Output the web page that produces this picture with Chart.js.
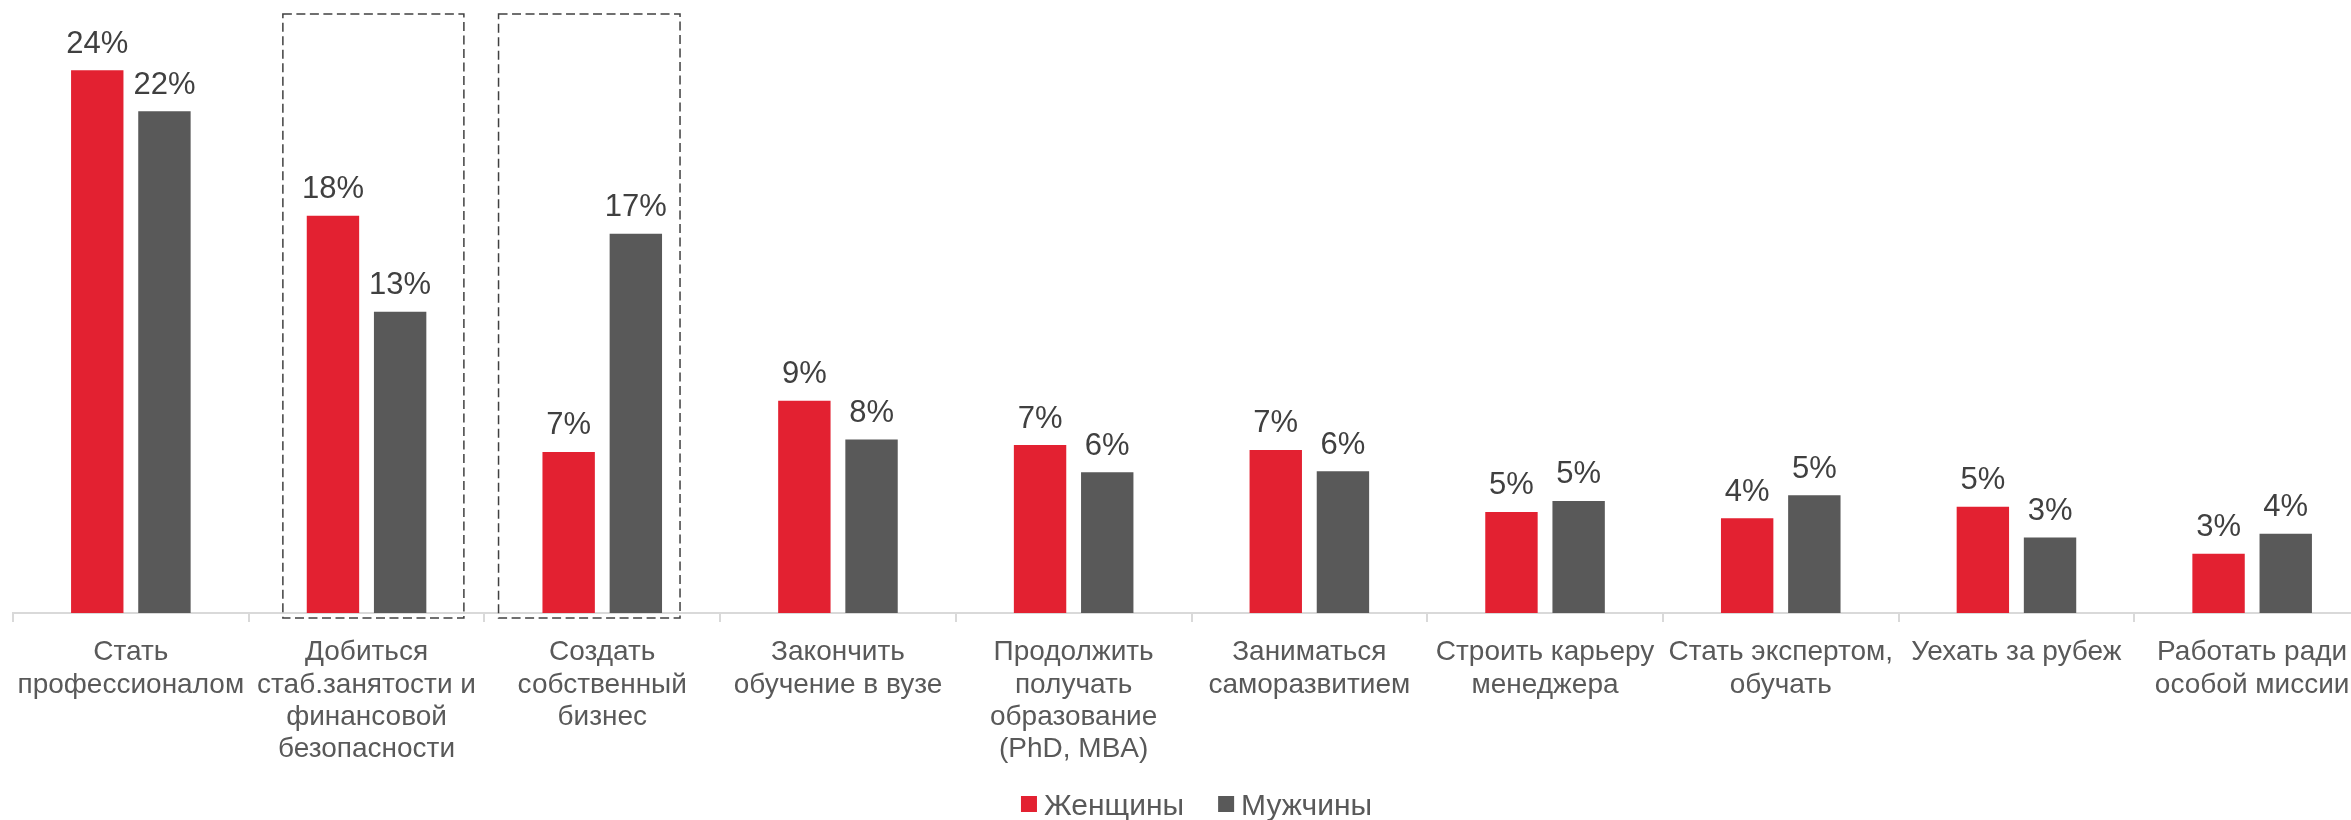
<!DOCTYPE html>
<html><head><meta charset="utf-8">
<script src="https://cdn.jsdelivr.net/npm/chart.js@4"></script>
<style>
html,body{margin:0;padding:0;background:#fff;overflow:hidden;width:2351px;height:820px}
#wrap{position:relative;width:2370px;height:820px}
</style></head><body>
<div id="wrap"><canvas id="c"></canvas></div>
<script>
const categories = [
  ["Стать", "профессионалом"],
  ["Добиться", "стаб.занятости и", "финансовой", "безопасности"],
  ["Создать", "собственный", "бизнес"],
  ["Закончить", "обучение в вузе"],
  ["Продолжить", "получать", "образование", "(PhD, MBA)"],
  ["Заниматься", "саморазвитием"],
  ["Строить карьеру", "менеджера"],
  ["Стать экспертом,", "обучать"],
  ["Уехать за рубеж"],
  ["Работать ради", "особой миссии"]
];
const seriesNames = ["Женщины", "Мужчины"];
const women = [24.16, 17.69, 7.17, 9.45, 7.48, 7.26, 4.5, 4.22, 4.73, 2.64];
const men   = [22.34, 13.41, 16.88, 7.73, 6.27, 6.31, 4.99, 5.24, 3.36, 3.53];
const highlighted = [1, 2];          // categories framed with dashed boxes
const boxSpan = [[-0.355, 0.413], [-0.44, 0.33]]; // box extent in category widths

const FONT = '"Liberation Sans", Arial, sans-serif';
const RED = '#E32131', GRAY = '#595959';

const valueLabels = {
  id: 'valueLabels',
  afterDatasetsDraw(chart) {
    const ctx = chart.ctx;
    ctx.save();
    ctx.font = '31px ' + FONT;
    ctx.fillStyle = '#404040';
    ctx.textAlign = 'center';
    ctx.textBaseline = 'alphabetic';
    chart.data.datasets.forEach((ds, di) => {
      chart.getDatasetMeta(di).data.forEach((bar, i) => {
        ctx.fillText(Math.round(ds.data[i]) + '%', bar.x, bar.y - 17.5);
      });
    });
    ctx.restore();
  }
};

const dashedBoxes = {
  id: 'dashedBoxes',
  afterDraw(chart) {
    const ctx = chart.ctx, xs = chart.scales.x, ys = chart.scales.y;
    const cw = (chart.chartArea.right - chart.chartArea.left) / categories.length;
    ctx.save();
    ctx.strokeStyle = '#404040';
    ctx.lineWidth = 1.5;
    ctx.setLineDash([9, 4.5]);
    highlighted.forEach((ci, k) => {
      const c = xs.getPixelForValue(ci);
      const x0 = c + boxSpan[k][0] * cw, x1 = c + boxSpan[k][1] * cw;
      const y0 = chart.chartArea.top + 7.5, y1 = ys.getPixelForValue(0) + 5;
      ctx.strokeRect(x0, y0, x1 - x0, y1 - y0);
    });
    ctx.restore();
  }
};

const customLegend = {
  id: 'customLegend',
  afterDraw(chart) {
    const ctx = chart.ctx;
    ctx.save();
    ctx.font = '30px ' + FONT;
    const box = 16, gapT = 7, gapI = 34;
    const widths = chart.data.datasets.map(d => ctx.measureText(d.label).width);
    const total = widths.reduce((a, w) => a + box + gapT + w, 0) + gapI * (widths.length - 1);
    let x = (chart.chartArea.left + chart.chartArea.right) / 2 + 5 - total / 2;
    const yc = 804;
    chart.data.datasets.forEach((d, i) => {
      ctx.fillStyle = d.backgroundColor;
      ctx.fillRect(x, yc - box / 2, box, box);
      x += box + gapT;
      ctx.fillStyle = '#595959';
      ctx.textBaseline = 'alphabetic';
      ctx.fillText(d.label, x, yc + 11);
      x += widths[i] + gapI;
    });
    ctx.restore();
  }
};

new Chart(document.getElementById('c'), {
  type: 'bar',
  data: {
    labels: categories,
    datasets: [
      { label: seriesNames[0], data: women, backgroundColor: RED },
      { label: seriesNames[1], data: men, backgroundColor: GRAY }
    ]
  },
  options: {
    responsive: true,
    maintainAspectRatio: false,
    animation: false,
    devicePixelRatio: 1,
    datasets: { bar: { categoryPercentage: 0.57, barPercentage: 0.78 } },
    layout: { padding: { left: 13, right: 0, top: 6.5, bottom: 40 } },
    plugins: { legend: { display: false }, tooltip: { enabled: false } },
    scales: {
      x: {
        offset: true,
        grid: { display: true, offset: true, drawOnChartArea: false, drawTicks: true,
                tickLength: 9, color: '#d9d9d9', lineWidth: 2 },
        border: { display: true, color: '#d9d9d9', width: 2 },
        ticks: { autoSkip: false, maxRotation: 0, minRotation: 0, padding: 14,
                 color: '#595959', font: { family: FONT, size: 28, lineHeight: 1.16 } }
      },
      y: { display: false, min: 0, max: 27 }
    }
  },
  plugins: [valueLabels, dashedBoxes, customLegend]
});
</script>
</body></html>
